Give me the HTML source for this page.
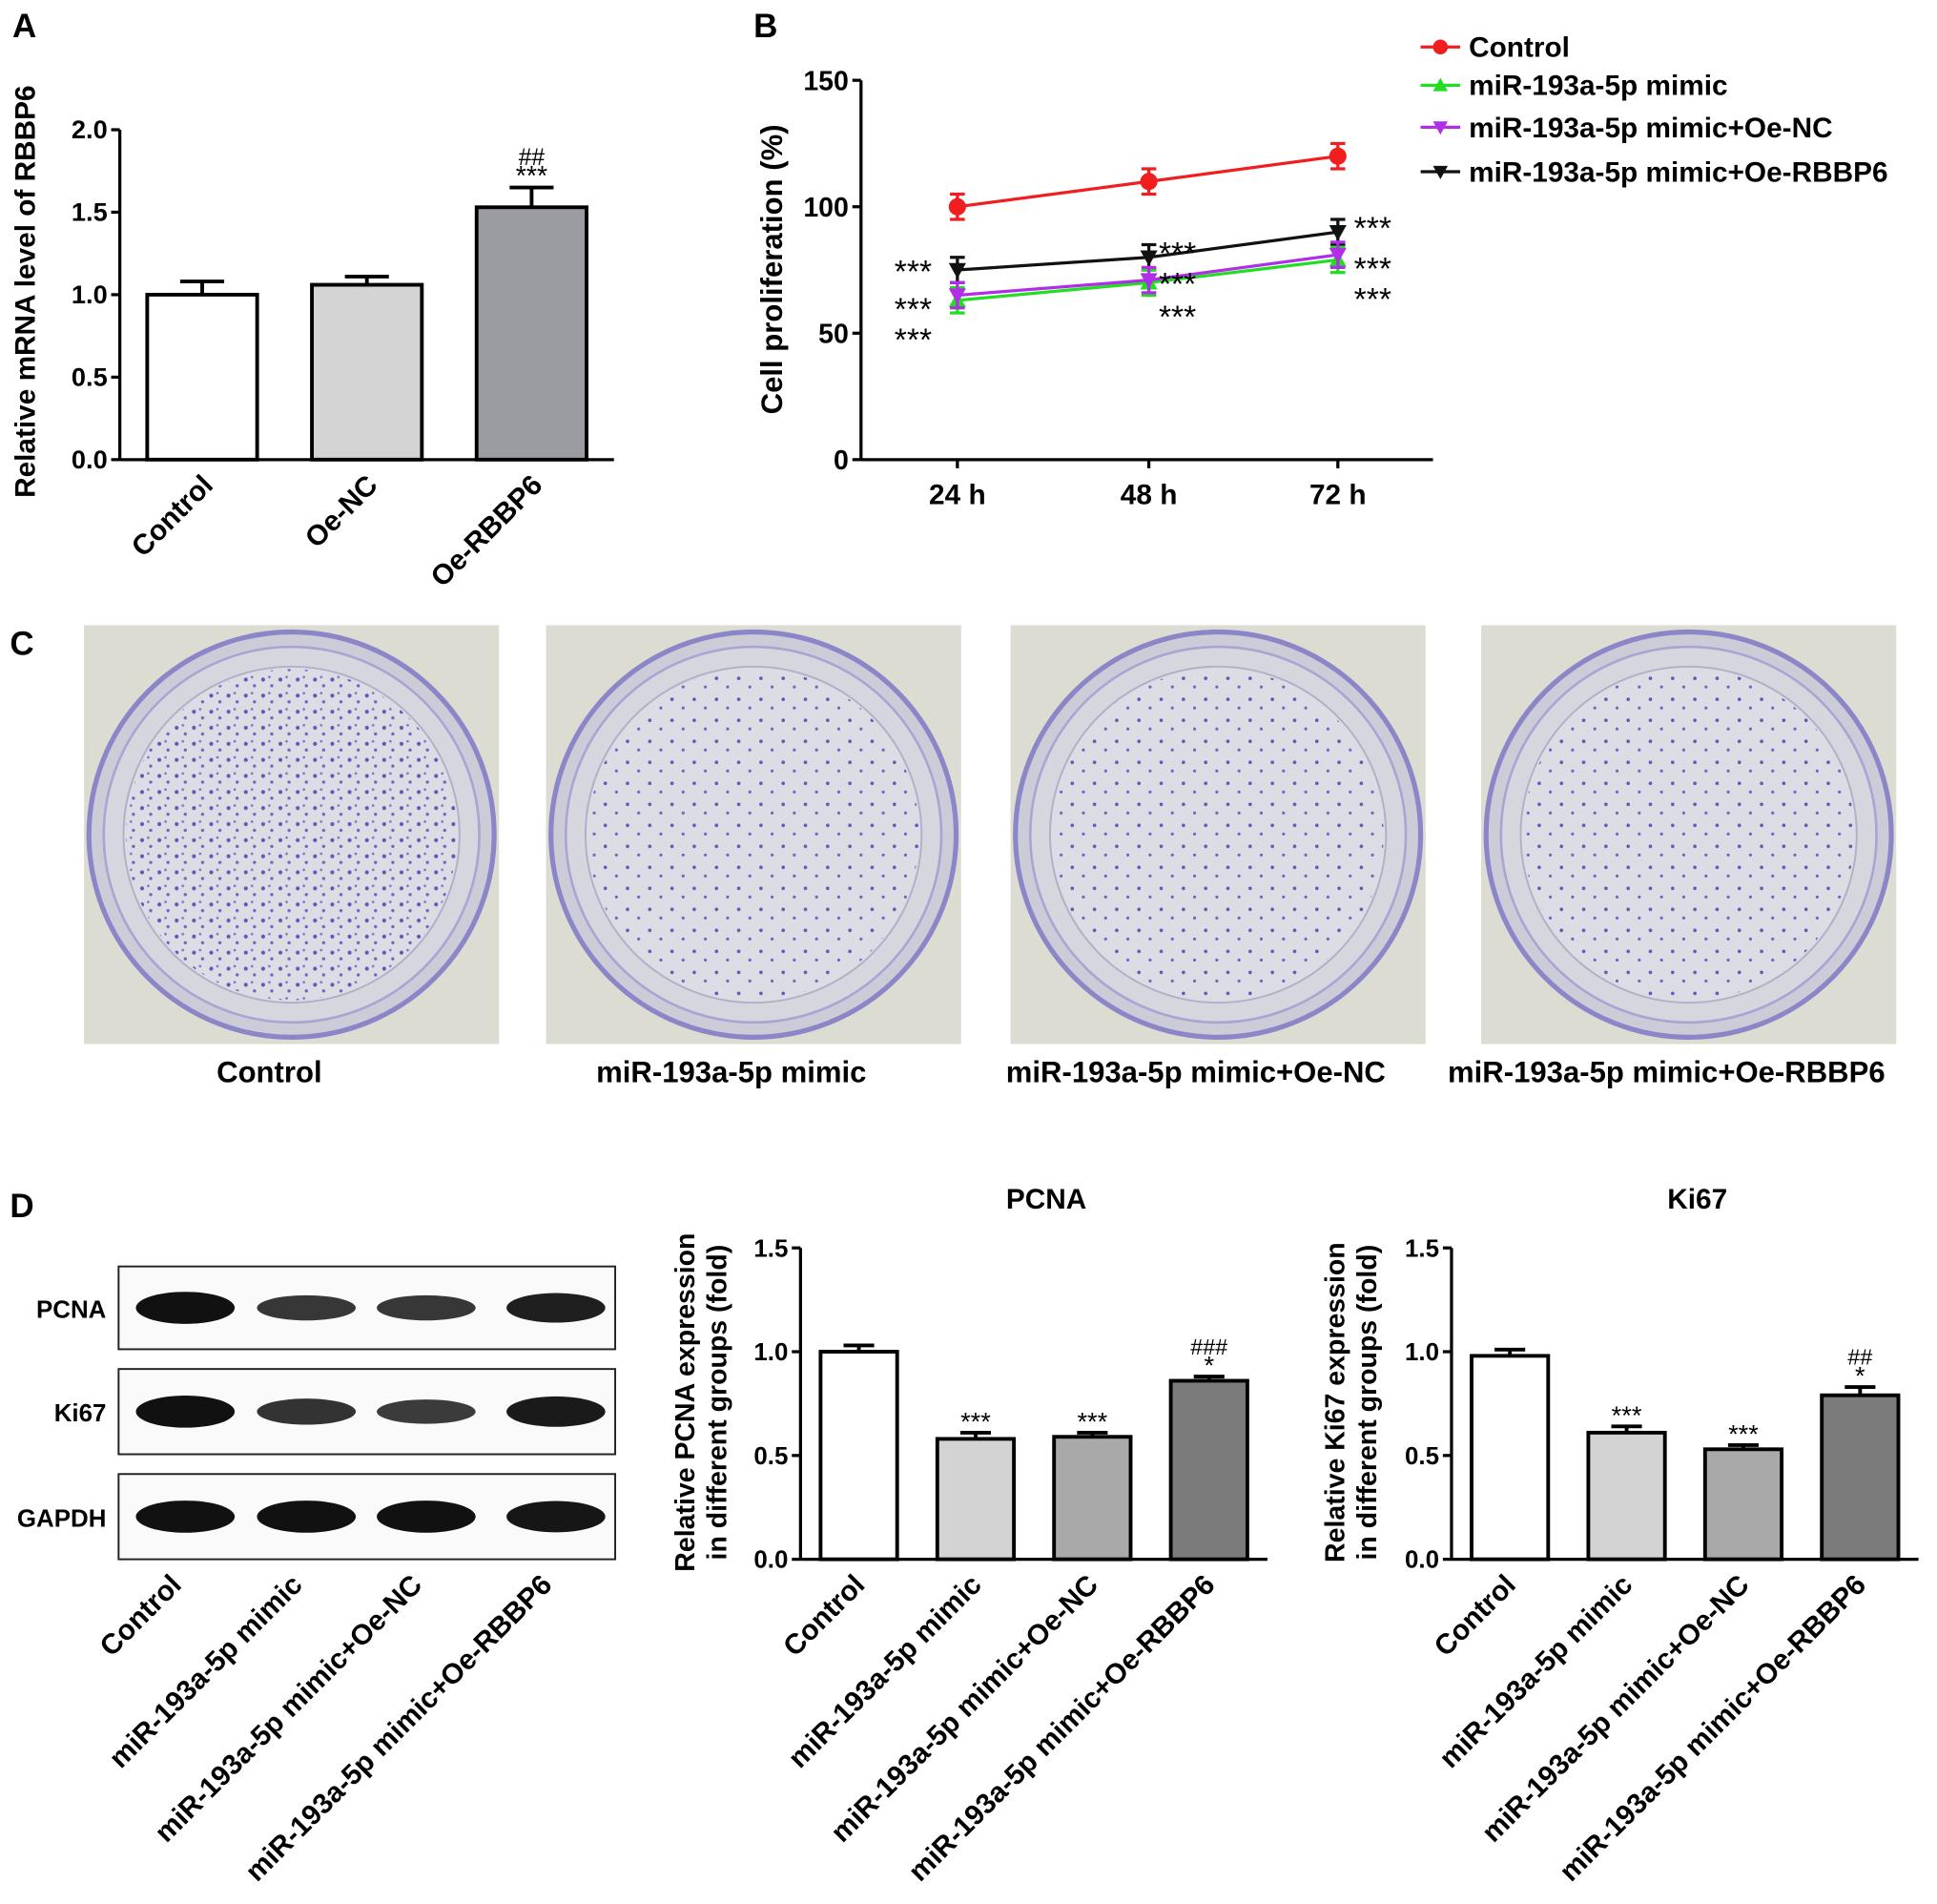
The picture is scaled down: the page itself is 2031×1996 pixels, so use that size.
<!DOCTYPE html>
<html><head><meta charset="utf-8">
<style>
html,body{margin:0;padding:0;background:#fff;}
svg{display:block;font-family:"Liberation Sans",Arial,sans-serif;font-weight:bold;}
</style></head>
<body>
<svg id="fig" width="2031" height="1996" viewBox="0 0 1568 1541" preserveAspectRatio="none" xmlns="http://www.w3.org/2000/svg">
<defs>
<pattern id="dots1" width="14" height="13" patternUnits="userSpaceOnUse"><circle cx="3" cy="4" r="1.6" fill="#4a3fb0"/><circle cx="10" cy="9" r="1.3" fill="#5a4cc0"/><circle cx="8" cy="2" r="1" fill="#6a5cc8"/></pattern>
<pattern id="dots2" width="18" height="17" patternUnits="userSpaceOnUse"><circle cx="4" cy="5" r="1.4" fill="#4a3fb0"/><circle cx="13" cy="12" r="1.2" fill="#5a4cc0"/></pattern>
</defs>
<g id="root"></g>
</svg>
<script>
// ---------- data ----------
const aCats = ["Control","Oe-NC","Oe-RBBP6"];
const aVals = [1.0, 1.06, 1.53];
const aErrs = [0.08, 0.05, 0.12];
const aTicks = [0, 0.5, 1.0, 1.5, 2.0];

const bTimes = ["24 h","48 h","72 h"];
const bNames = ["Control","miR-193a-5p mimic","miR-193a-5p mimic+Oe-NC","miR-193a-5p mimic+Oe-RBBP6"];
const bControl = [100, 110, 120];
const bMimic = [63, 70, 79];
const bOeNC = [65, 71, 81];
const bOeRBBP6 = [75, 80, 90];
const bErr = [5, 5, 5];
const bTicks = [0, 50, 100, 150];

const dCats = ["Control","miR-193a-5p mimic","miR-193a-5p mimic+Oe-NC","miR-193a-5p mimic+Oe-RBBP6"];
const pcnaVals = [1.0, 0.58, 0.59, 0.86];
const pcnaErrs = [0.03, 0.03, 0.02, 0.02];
const pcnaMarks = [["",""],["","***"],["","***"],["###","*"]];
const ki67Vals = [0.98, 0.61, 0.53, 0.79];
const ki67Errs = [0.03, 0.03, 0.02, 0.04];
const ki67Marks = [["",""],["","***"],["","***"],["##","*"]];
const dTicks = [0, 0.5, 1.0, 1.5];
const blotRows = ["PCNA","Ki67","GAPDH"];
const blotIntensity = [[1,0.6,0.6,0.85],[1,0.65,0.55,0.9],[1,1,1,0.95]];

// ---------- helpers ----------
const NS="http://www.w3.org/2000/svg";
const root=document.getElementById('root');
function el(tag,attrs,parent,text){const e=document.createElementNS(NS,tag);for(const k in attrs)e.setAttribute(k,attrs[k]);if(text!==undefined)e.textContent=text;(parent||root).appendChild(e);return e;}

[["A",10,30],["B",610,30],["C",8,530],["D",8,985]].forEach(p=>{
 const t=el('text',{x:p[1],y:p[2],'font-size':27},root,p[0]);
 
 
});

function barChart(o){
 const g=el('g',{});
 
 
 const y=v=>o.y0-(v-o.tmin)/(o.tmax-o.tmin)*(o.y0-o.y1);
 el('line',{x1:o.x0,y1:o.y0,x2:o.x1,y2:o.y0,stroke:'#000','stroke-width':2.5},g);
 el('line',{x1:o.x0,y1:o.y0,x2:o.x0,y2:o.y1,stroke:'#000','stroke-width':2.5},g);
 o.ticks.forEach(t=>{
  el('line',{x1:o.x0-7,x2:o.x0,y1:y(t),y2:y(t),stroke:'#000','stroke-width':2.5},g);
  const tl=el('text',{x:o.x0-10,y:y(t)+7,'text-anchor':'end','font-size':o.tfs},g,t.toFixed(1));
  
  
 });
 const n=o.vals.length, step=(o.x1-o.x0)/n;
 o.vals.forEach((v,i)=>{
  const cx=o.x0+step*(i+0.5), w=o.bw;
  const r=el('rect',{x:cx-w/2,y:y(v),width:w,height:o.y0-y(v),fill:o.fills[i],stroke:'#000','stroke-width':3},g);
  
  
  const ey=y(v+o.errs[i]);
  el('line',{x1:cx,x2:cx,y1:y(v),y2:ey,stroke:'#000','stroke-width':3},g);
  el('line',{x1:cx-w*0.2,x2:cx+w*0.2,y1:ey,y2:ey,stroke:'#000','stroke-width':3},g);
  if(o.marks){const m=o.marks[i];
   if(m[1]) el('text',{x:cx,y:ey-2,'text-anchor':'middle','font-size':o.mfs,'font-weight':'normal'},g,m[1]);
   if(m[0]) el('text',{x:cx,y:ey-18,'text-anchor':'middle','font-size':o.mfs-3,'font-weight':'normal'},g,m[0]);}
  const lx=cx+o.lo, ly=o.y0+o.lyo;
  const lab=el('text',{x:lx,y:ly,'text-anchor':'end','font-size':o.lfs,transform:`rotate(-45 ${lx} ${ly})`},g,o.cats[i]);
  
  
 });
 o.ytitle.forEach((line,k)=>{
  const tx=o.ytx+k*o.ytdx, ty=o.yty;
  const t=el('text',{x:tx,y:ty,'text-anchor':'middle','font-size':o.yfs,transform:`rotate(-90 ${tx} ${ty})`},g,line);
  
  
 });
 if(o.title){const t=el('text',{x:(o.x0+o.x1)/2+10,y:o.titleY,'text-anchor':'middle','font-size':23},g,o.title);
  }
}

// Panel A
barChart({name:'panel-a-chart',x0:97,x1:497,y0:372,y1:105,tmin:0,tmax:2,ticks:aTicks,vals:aVals,errs:aErrs,cats:aCats,
 fills:['#fff','#d4d4d4','#9b9ba2'],bw:89,tfs:21,lfs:23,lo:10,lyo:22,
 marks:[["",""],["",""],["##","***"]],mfs:22,ytitle:["Relative mRNA level of RBBP6"],ytx:28,ytdx:0,yty:236,yfs:23});

// Panel B line chart
(function(){
 const g=el('g',{});
 
 
 const x0=697,x1=1160,y0=372,y1=65;
 const y=v=>y0-v/150*(y0-y1);
 const xs=[775,930,1083];
 el('line',{x1:x0,y1:y0,x2:x1,y2:y0,stroke:'#000','stroke-width':2.5},g);
 el('line',{x1:x0,y1:y0,x2:x0,y2:y1,stroke:'#000','stroke-width':2.5},g);
 bTicks.forEach(t=>{el('line',{x1:x0-7,x2:x0,y1:y(t),y2:y(t),stroke:'#000','stroke-width':2.5},g);
  const tl=el('text',{x:x0-10,y:y(t)+8,'text-anchor':'end','font-size':22},g,String(t));
  });
 bTimes.forEach((t,i)=>{el('line',{x1:xs[i],x2:xs[i],y1:y0,y2:y0+7,stroke:'#000','stroke-width':2.5},g);
  const tl=el('text',{x:xs[i],y:y0+36,'text-anchor':'middle','font-size':23},g,t);
  });
 const yt=el('text',{x:633,y:218,'text-anchor':'middle','font-size':24,transform:'rotate(-90 633 218)'},g,'Cell proliferation (%)');
 
 const series=[bControl,bMimic,bOeNC,bOeRBBP6];
 const colors=['#f01e1e','#22dd22','#b02ee8','#111'];
 const shapes=['circle','up','down','down'];
 function marker(sh,cx,cy,c,p,s){
  if(sh==='circle') return el('circle',{cx,cy,r:s,fill:c},p);
  if(sh==='up') return el('polygon',{points:`${cx-s},${cy+s*0.8} ${cx+s},${cy+s*0.8} ${cx},${cy-s}`,fill:c},p);
  return el('polygon',{points:`${cx-s},${cy-s*0.8} ${cx+s},${cy-s*0.8} ${cx},${cy+s}`,fill:c},p);
 }
 [3,1,2,0].forEach(si=>{
  const d=series[si];const sg=el('g',{},g);
  
  
  el('polyline',{points:d.map((v,i)=>xs[i]+','+y(v)).join(' '),fill:'none',stroke:colors[si],'stroke-width':2.5},sg);
  d.forEach((v,i)=>{
   el('line',{x1:xs[i],x2:xs[i],y1:y(v-bErr[i]),y2:y(v+bErr[i]),stroke:colors[si],'stroke-width':2.5},sg);
   el('line',{x1:xs[i]-6,x2:xs[i]+6,y1:y(v+bErr[i]),y2:y(v+bErr[i]),stroke:colors[si],'stroke-width':2.5},sg);
   el('line',{x1:xs[i]-6,x2:xs[i]+6,y1:y(v-bErr[i]),y2:y(v-bErr[i]),stroke:colors[si],'stroke-width':2.5},sg);
   const m=marker(shapes[si],xs[i],y(v),colors[si],sg,7);
   
   
  });
 });
 const starPos=[[724,bOeRBBP6[0]+3],[724,bOeNC[0]-2],[724,bMimic[0]-12],[938,bOeRBBP6[1]+5],[938,bOeNC[1]+2],[938,bMimic[1]-10],[1096,bOeRBBP6[2]+5],[1096,bOeNC[2]-2],[1096,bMimic[2]-12]];
 starPos.forEach(p=>{el('text',{x:p[0],y:y(p[1])+16,'font-size':26,'font-weight':'normal'},g,'***');});
 const ly=[38,69,103,139];
 bNames.forEach((n,i)=>{
  const lg=el('g',{},g);
  
  
  el('line',{x1:1150,x2:1182,y1:ly[i],y2:ly[i],stroke:colors[i],'stroke-width':2.5},lg);
  marker(shapes[i],1166,ly[i],colors[i],lg,6);
  el('text',{x:1189,y:ly[i]+8,'font-size':23},lg,n);
 });
})();

// Panel C dishes
(function(){
 const xs=[68,442,818,1199];
 const labels=["Control","miR-193a-5p mimic","miR-193a-5p mimic+Oe-NC","miR-193a-5p mimic+Oe-RBBP6"];
 xs.forEach((x,i)=>{
  const g=el('g',{});
  
  
  const w=336,h=339,cx=x+w/2,cy=506+h/2;
  el('rect',{x,y:506,width:w,height:h,fill:'#dcdcd2'},g);
  el('circle',{cx,cy,r:164,fill:'#ccccd8',stroke:'#8a86c8','stroke-width':4},g);
  el('circle',{cx,cy,r:152,fill:'#d6d6de',stroke:'#a8a4d4','stroke-width':2},g);
  el('circle',{cx,cy,r:136,fill:'#dcdce4',stroke:'#b0b0c8','stroke-width':1.5},g);
  el('circle',{cx,cy,r:134,fill:i===0?'url(#dots1)':'url(#dots2)',opacity:0.85},g);
  const t=el('text',{x:cx-18,y:876,'text-anchor':'middle','font-size':24},g,labels[i]);
  
 });
})();

// Panel D blot
(function(){
 const g=el('g',{});
 
 
 const rows=[[1025,1092],[1108,1177],[1193,1262]];
 const bx=[150,248,345,450];
 rows.forEach((r,ri)=>{
  el('rect',{x:96,y:r[0],width:402,height:r[1]-r[0],fill:'#fafafa',stroke:'#222','stroke-width':1.5},g);
  const t=el('text',{x:86,y:(r[0]+r[1])/2+8,'text-anchor':'end','font-size':20},g,blotRows[ri]);
  
  bx.forEach((x,i)=>{const k=blotIntensity[ri][i];
   el('ellipse',{cx:x,cy:(r[0]+r[1])/2,rx:40,ry:6+7*k,fill:'#111',opacity:0.6+0.4*k},g);});
 });
 dCats.forEach((c,i)=>{const lx=bx[i]-2,ly=1284;
  el('text',{x:lx,y:ly,'text-anchor':'end','font-size':23,transform:`rotate(-45 ${lx} ${ly})`},g,c);});
})();

barChart({name:'pcna-bar-chart',x0:648,x1:1026,y0:1262,y1:1010,tmin:0,tmax:1.5,ticks:dTicks,vals:pcnaVals,errs:pcnaErrs,cats:dCats,
 fills:['#fff','#d3d3d3','#a9a9a9','#7b7b7b'],bw:62,tfs:20,lfs:23,lo:6,lyo:22,marks:pcnaMarks,mfs:21,
 ytitle:["Relative PCNA expression","in different groups (fold)"],ytx:562,ytdx:26,yty:1135,yfs:22,title:'PCNA',titleY:978});
barChart({name:'ki67-bar-chart',x0:1175,x1:1553,y0:1262,y1:1010,tmin:0,tmax:1.5,ticks:dTicks,vals:ki67Vals,errs:ki67Errs,cats:dCats,
 fills:['#fff','#d3d3d3','#a9a9a9','#7b7b7b'],bw:62,tfs:20,lfs:23,lo:6,lyo:22,marks:ki67Marks,mfs:21,
 ytitle:["Relative Ki67 expression","in different groups (fold)"],ytx:1088,ytdx:26,yty:1135,yfs:22,title:'Ki67',titleY:978});
</script>
</body></html>
